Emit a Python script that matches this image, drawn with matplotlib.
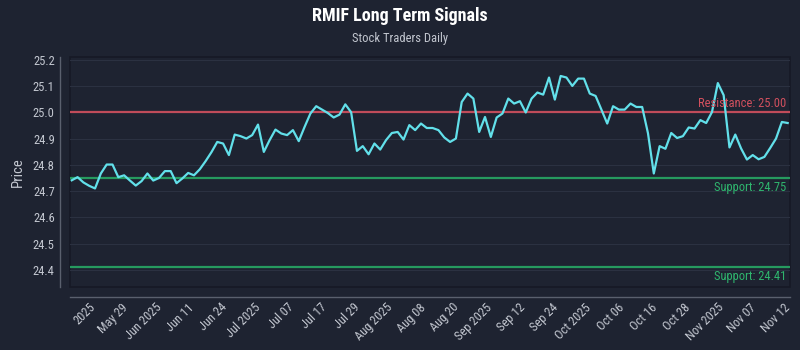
#---------------------------------------------------
#  Inputs
#---------------------------------------------------
import numpy as np
import matplotlib
matplotlib.use("Agg")
import matplotlib.pyplot as plt

prices = [
    24.741, 24.753, 24.733, 24.720, 24.710, 24.767, 24.801, 24.801, 24.753, 24.760,
    24.740, 24.721, 24.738, 24.767, 24.740, 24.750, 24.776, 24.776, 24.730, 24.748,
    24.769, 24.760, 24.783, 24.814, 24.848, 24.887, 24.881, 24.837, 24.915, 24.909,
    24.900, 24.913, 24.953, 24.849, 24.894, 24.934, 24.919, 24.913, 24.932, 24.890,
    24.944, 24.995, 25.023, 25.010, 24.997, 24.980, 24.991, 25.030, 25.000, 24.853,
    24.871, 24.840, 24.881, 24.858, 24.894, 24.921, 24.925, 24.896, 24.951, 24.932,
    24.957, 24.940, 24.940, 24.932, 24.904, 24.887, 24.900, 25.039, 25.071, 25.052,
    24.925, 24.982, 24.906, 24.980, 24.995, 25.052, 25.033, 25.042, 24.999, 25.052,
    25.075, 25.067, 25.132, 25.048, 25.138, 25.132, 25.100, 25.128, 25.128, 25.071,
    25.062, 25.010, 24.957, 25.023, 25.010, 25.010, 25.033, 25.020, 25.020, 24.920,
    24.767, 24.871, 24.861, 24.921, 24.902, 24.909, 24.942, 24.938, 24.970, 24.959,
    25.001, 25.111, 25.065, 24.866, 24.915, 24.862, 24.820, 24.837, 24.821, 24.830,
    24.864, 24.900, 24.963, 24.959,
]

tick_labels = ["2025", "May 29", "Jun 2025", "Jun 11", "Jun 24", "Jul 2025",
               "Jul 07", "Jul 17", "Jul 29", "Aug 2025", "Aug 08", "Aug 20",
               "Sep 2025", "Sep 12", "Sep 24", "Oct 2025", "Oct 06", "Oct 16",
               "Oct 28", "Nov 2025", "Nov 07", "Nov 12"]

resistance = 25.00
supports = [24.75, 24.41]

bg = "#1e2331"
txt = "#c3c7d0"

plt.rcParams['font.family'] = ['Roboto Condensed', 'Liberation Sans Narrow',
                               'Roboto', 'DejaVu Sans']

#---------------------------------------------------
#  Graphs
#---------------------------------------------------
fig = plt.figure(figsize=(8, 3.5), dpi=100, facecolor=bg)
ax = fig.add_axes([0.0875, 0.18, 0.9, 0.657])
ax.set_facecolor(bg)
ax.patch.set_edgecolor("#161925")
ax.patch.set_linewidth(1.2)

x = np.arange(len(prices))
ax.plot(x, prices, color="#62e0ea", linewidth=1.6, zorder=3)

ax.axhline(resistance, color="#d2505e", linewidth=1.6, alpha=0.9, zorder=2)
for s in supports:
    ax.axhline(s, color="#28a865", linewidth=1.6, alpha=0.9, zorder=2)

ax.set_xlim(-0.3, len(prices) - 0.6)
ax.set_ylim(24.335, 25.21)

ax.text(len(prices) - 1.3, resistance + 0.008, "Resistance: %.2f" % resistance,
        color="#d2505e", fontsize=9, ha="right", va="bottom")
for s in supports:
    ax.text(len(prices) - 1.3, s - 0.012, "Support: %.2f" % s,
            color="#2fb56e", fontsize=9, ha="right", va="top")

yt = np.arange(24.4, 25.21, 0.1)
ax.set_yticks(yt, labels=["%.1f" % v for v in yt])
ax.set_xticks(np.linspace(2.9, 122.2, len(tick_labels)), labels=tick_labels)

ax.tick_params(colors=txt, labelsize=9, length=0, pad=4)
ax.tick_params(axis="x", labelrotation=45, pad=3)
ax.grid(axis="y", color="#2b3141", linewidth=0.8)
ax.set_axisbelow(True)

for side in ["top", "right"]:
    ax.spines[side].set_visible(False)
for side in ["left", "bottom"]:
    ax.spines[side].set_position(("outward", 7))
    ax.spines[side].set_color("#5a606e")
    ax.spines[side].set_linewidth(1)

ax.set_ylabel("Price", color=txt, fontsize=10.5, labelpad=6)

fig.text(0.5, 0.955, "RMIF Long Term Signals", color="white", fontsize=13,
         fontweight="bold", ha="center", va="center")
fig.text(0.5, 0.89, "Stock Traders Daily", color=txt, fontsize=9,
         ha="center", va="center")

# right-align the rotated date labels
fig.canvas.draw()
for lab in ax.get_xticklabels():
    lab.set_rotation_mode("anchor")
    lab.set_horizontalalignment("right")
    lab.set_verticalalignment("top")

fig.savefig("out.png", dpi=100, facecolor=bg)
